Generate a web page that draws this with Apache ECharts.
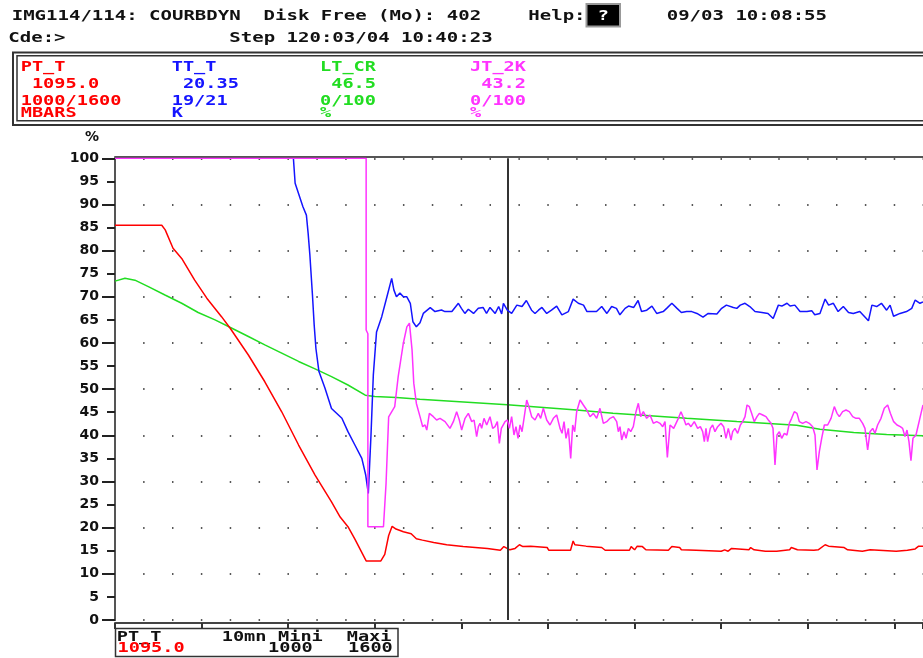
<!DOCTYPE html>
<html><head><meta charset="utf-8">
<script src="https://cdn.jsdelivr.net/npm/echarts@6/dist/echarts.min.js"></script>
<style>html,body{margin:0;padding:0;background:#fff}#c{width:923px;height:658px}</style>
</head><body><div id="c"></div>
<script>
// ---- data (x in minutes, y in %) ----
const ptT = [[0,85.5],[5.4,85.5],[5.8,84.5],[6.7,80.5],[7.7,78.3],[9.2,73.6],[10.6,69.7],[12.3,65.7],[13.3,63.2],[15.4,57.4],[17.3,51.6],[19.25,45.1],[21.2,37.9],[23.1,31.4],[25.0,25.6],[26.0,22.3],[26.9,20.2],[27.7,17.5],[29.0,12.8],[30.7,12.8],[31.15,14.2],[31.6,18.3],[32.0,20.3],[32.45,19.7],[33.3,19.1],[34.2,18.7],[34.8,17.6],[35.5,17.3],[36.8,16.8],[38.3,16.3],[40.2,15.9],[43.0,15.5],[43.2,15.1],[44.5,15.1],[44.9,15.9],[45.6,15.2],[46.2,15.5],[46.7,16.3],[47.1,15.9],[48.0,16.0],[49.9,15.7],[50.1,15.1],[52.6,15.1],[52.9,17.1],[53.1,16.3],[54.4,16.0],[56.2,15.7],[56.6,15.1],[59.4,15.1],[59.6,15.9],[60.0,15.2],[60.3,16.0],[60.9,15.9],[61.3,15.2],[63.9,15.1],[64.3,15.9],[65.2,15.7],[65.4,15.2],[67.1,15.1],[70.0,14.9],[70.4,15.2],[70.8,14.9],[71.2,15.5],[73.2,15.2],[73.4,15.7],[73.8,15.2],[75.1,14.9],[76.4,14.9],[76.6,15.2],[77.9,15.2],[78.1,15.7],[78.8,15.2],[80.7,15.1],[81.2,15.2],[82.0,16.3],[82.4,16.0],[84.2,15.7],[84.6,15.2],[86.3,14.9],[87.2,15.2],[90.2,14.9],[91.5,15.1],[92.4,15.4],[92.8,16.0],[93.3,16.0]];

const ttT = [[20.6,100],[20.8,94.6],[21.7,89.5],[22.1,87.7],[22.3,83.8],[22.5,79.1],[22.8,70.4],[23.0,63.9],[23.2,58.8],[23.55,53.8],[24.25,50.2],[25.0,45.8],[25.4,45.1],[26.2,43.7],[26.9,40.8],[27.7,37.9],[28.5,35.0],[28.95,31.4],[29.25,27.4],[29.56,40.1],[29.83,53.1],[30.0,57.4],[30.2,62.4],[30.8,65.7],[31.4,70.0],[31.95,74.0],[32.2,71.5],[32.5,70.0],[32.9,70.8],[33.3,70.0],[33.7,70.0],[34.1,68.6],[34.4,64.6],[34.8,63.5],[35.22,64.4],[35.6,66.4],[36.4,67.65],[36.95,66.8],[37.7,67.15],[38.1,66.8],[38.9,66.8],[39.65,68.6],[40.0,67.5],[40.4,66.4],[40.8,67.3],[41.4,66.4],[41.95,67.5],[42.5,67.7],[42.9,66.4],[43.3,67.7],[43.9,66.4],[44.3,67.9],[44.65,66.3],[44.85,68.6],[45.3,67.1],[45.8,66.4],[46.4,68.2],[47.0,67.9],[47.5,69.2],[48.1,67.1],[48.5,66.4],[48.9,67.1],[49.3,67.7],[49.85,66.4],[50.4,67.1],[51.0,68.0],[51.6,66.1],[52.35,66.8],[52.9,69.5],[53.5,68.6],[54.1,68.2],[54.5,66.8],[55.6,66.8],[56.2,67.9],[56.8,66.4],[57.35,67.9],[57.9,67.5],[58.3,66.1],[58.9,67.5],[59.3,68.0],[59.9,67.7],[60.4,69.2],[60.8,66.8],[61.4,67.1],[62.0,68.0],[62.55,66.4],[63.3,66.8],[63.7,67.5],[64.3,68.6],[64.9,67.5],[65.4,66.6],[66.0,66.8],[66.6,66.8],[67.2,66.4],[67.9,65.6],[68.5,66.4],[69.5,66.3],[70.05,67.5],[70.6,68.2],[71.4,67.7],[71.8,67.5],[72.2,68.2],[72.75,68.6],[73.3,67.9],[73.9,66.8],[74.7,66.6],[75.4,66.4],[76.0,65.3],[76.6,68.2],[77.0,68.0],[77.6,68.6],[77.95,68.0],[78.5,68.2],[79.1,66.8],[79.9,66.8],[80.45,67.0],[80.8,66.1],[81.4,66.4],[82.0,69.5],[82.4,68.2],[82.95,68.6],[83.5,66.8],[84.1,67.9],[84.7,66.6],[85.25,66.4],[86.0,66.8],[87.0,64.8],[87.4,68.2],[87.95,67.9],[88.5,68.6],[89.1,67.1],[89.5,68.2],[89.9,65.8],[90.65,66.4],[91.4,66.8],[92.0,67.5],[92.4,69.3],[92.95,68.6],[93.3,68.9]];

const ltCr = [[0,73.4],[1.15,74.0],[2.3,73.6],[3.85,72.2],[5.77,70.4],[7.7,68.6],[9.6,66.6],[11.55,65.0],[13.5,63.2],[15.4,61.4],[17.3,59.6],[19.25,57.8],[21.2,56.0],[23.1,54.4],[25.0,52.7],[26.9,50.9],[28.9,48.7],[30.0,48.4],[32.5,48.2],[35.2,47.8],[45.3,46.6],[53.3,45.5],[57.5,44.8],[62.2,44.2],[66.0,43.7],[71.8,43.0],[78.7,42.2],[81.4,41.3],[85.3,40.6],[89.1,40.2],[93.3,39.9]];

const jt2k = [[0,100],[29.0,100],[29.0,62.8],[29.2,62.0],[29.2,20.2],[31.0,20.2],[31.3,29.6],[31.6,44.0],[32.3,46.2],[32.7,52.7],[33.3,60.0],[33.7,63.5],[34.0,64.3],[34.3,58.5],[34.5,51.3],[34.8,46.9],
  [35.22,44.04],[35.53,41.87],[35.8,42.24],[36.0,41.15],[36.3,44.76],[36.76,44.04],[37.14,43.32],[37.53,43.68],[38.11,42.96],[38.68,41.51],[39.07,42.96],[39.45,45.12],[39.76,43.32],[40.03,41.15],[40.42,43.68],[40.8,44.76],[41.19,42.96],[41.46,43.32],[41.76,39.71],[41.96,41.87],[42.15,42.6],[42.34,41.51],[42.61,43.68],[42.92,42.24],[43.3,44.04],[43.61,41.51],[43.88,41.87],[44.15,42.96],[44.38,38.26],[44.61,41.51],[44.84,41.87],[45.04,42.96],[45.3,43.32],[45.54,41.51],[45.8,44.04],[46.07,40.07],[46.3,41.87],[46.54,39.35],[46.77,42.24],[47.0,40.79],[47.23,43.68],[47.54,47.65],[47.85,45.85],[48.11,44.04],[48.5,43.32],[48.88,44.76],[49.15,43.68],[49.46,45.85],[49.85,43.32],[50.23,42.24],[50.62,43.68],[51.0,44.4],[51.39,41.51],[51.62,40.43],[51.85,42.96],[52.08,39.35],[52.35,41.51],[52.62,35.0],[52.85,42.24],[53.08,40.79],[53.31,45.12],[53.7,47.65],[54.08,46.57],[54.47,45.49],[54.85,44.04],[55.24,44.76],[55.62,43.68],[56.0,45.85],[56.39,42.6],[56.78,42.96],[57.16,43.68],[57.55,44.04],[57.93,42.96],[58.12,40.79],[58.31,41.87],[58.51,38.99],[58.78,40.79],[59.01,39.35],[59.28,41.51],[59.55,40.79],[59.85,41.87],[60.16,45.12],[60.43,46.93],[60.7,44.04],[61.01,45.12],[61.39,43.68],[61.78,44.4],[62.16,42.6],[62.55,42.96],[62.93,42.6],[63.24,41.87],[63.51,42.96],[63.78,35.2],[64.09,42.24],
  [64.2,41.87],[64.51,41.51],[64.78,42.6],[65.05,43.68],[65.35,45.12],[65.66,43.68],[65.93,42.24],[66.2,42.6],[66.51,41.87],[66.89,42.96],[67.28,41.51],[67.59,41.87],[67.86,40.79],[68.05,38.63],[68.24,41.51],[68.43,38.63],[68.74,41.51],[69.01,42.24],[69.28,40.79],[69.59,41.87],[69.97,42.6],[70.28,41.87],[70.55,39.35],[70.82,41.51],[71.13,38.99],[71.32,40.79],[71.59,41.51],[71.9,40.43],[72.21,42.24],[72.48,42.96],[72.75,44.04],[72.98,46.57],[73.25,46.21],[73.51,44.76],[73.82,42.96],[74.13,44.04],[74.4,44.76],[74.79,44.4],[75.17,44.04],[75.44,43.32],[75.75,42.6],[75.98,41.51],[76.21,33.6],[76.44,40.07],[76.71,40.79],[76.98,39.35],[77.29,40.43],[77.59,40.07],[77.86,42.6],[78.13,43.68],[78.44,45.12],[78.75,44.76],[79.02,42.96],[79.4,42.6],[79.79,42.96],[80.17,42.6],[80.56,41.87],[80.83,40.07],[81.06,32.5],[81.33,36.46],[81.6,39.35],[81.91,42.24],[82.29,42.24],[82.68,43.68],[83.06,46.21],[83.37,44.76],[83.64,44.04],[84.02,45.12],[84.41,45.49],[84.79,45.12],[85.18,44.04],[85.56,43.68],[85.95,43.68],[86.33,42.6],[86.6,41.51],[86.91,36.82],[87.18,40.79],[87.49,41.51],[87.76,40.43],[88.06,42.24],[88.45,43.68],[88.83,45.85],[89.22,46.57],[89.53,44.76],[89.91,42.96],[90.3,42.24],[90.68,41.87],[90.95,41.51],[91.22,39.71],[91.45,41.15],[91.68,38.63],[91.91,34.5],[92.14,39.35],[92.49,40.07],[92.76,42.24],[93.07,44.76],[93.3,46.57]];

const cursorAt = 45.3;
const xMax = 93.3;

const legendNames  = ['PT_T', 'TT_T', 'LT_CR', 'JT_2K'];
const legendValues = ['1095.0', '20.35', '46.5', '43.2'];
const legendRanges = ['1000/1600', '19/21', '0/100', '0/100'];
const legendUnits  = ['MBARS', 'K', '%', '%'];

const headerLine1 = 'IMG114/114: COURBDYN  Disk Free (Mo): 402';
const helpLabel = 'Help:';
const helpKey = '?';
const clockText = '09/03 10:08:55';
const cmdText = 'Cde:>';
const stepText = 'Step 120:03/04 10:40:23';

const footName = 'PT_T';
const footValue = '1095.0';
const footScale = '10mn';
const footMiniLabel = 'Mini';
const footMaxiLabel = 'Maxi';
const footMini = '1000';
const footMaxi = '1600';

// ---- styling ----
const COLORS = ['#ff0000', '#1414ff', '#22dd22', '#ff33ff'];
const MONO = '"DejaVu Sans Mono","Liberation Mono",monospace';
function txt(str, x, y, color, sx, align) {
  return {type: 'text', x: x, y: y, scaleX: sx, silent: true, z: 100,
    style: {text: str, fill: color, font: 'bold 14px ' + MONO,
      textAlign: align || 'left', align: align || 'left',
      textVerticalAlign: 'middle', verticalAlign: 'middle'}};
}
const HS = 11.45 / 8.43;
const LS = 11.2 / 8.43;

const graphics = [];
graphics.push(txt(headerLine1, 11.7, 16, '#111', HS));
graphics.push(txt(helpLabel, 528.3, 16, '#111', HS));
graphics.push({type: 'rect', shape: {x: 586.5, y: 4, width: 33.5, height: 22.5}, style: {fill: '#000', stroke: '#999', lineWidth: 2}, z: 99, silent: true});
graphics.push(txt(helpKey, 603.2, 16, '#fff', HS, 'center'));
graphics.push(txt(clockText, 666.7, 16, '#111', HS));
graphics.push(txt(cmdText, 8.3, 38, '#111', HS));
graphics.push(txt(stepText, 229.3, 38, '#111', HS));

graphics.push({type: 'rect', shape: {x: 13, y: 52.5, width: 940, height: 72.5}, style: {fill: 'none', stroke: '#333', lineWidth: 2}, z: 99, silent: true});
graphics.push({type: 'rect', shape: {x: 17, y: 55.8, width: 930, height: 65}, style: {fill: 'none', stroke: '#333', lineWidth: 1.5}, z: 99, silent: true});
const legendX = [20.7, 171.7, 320, 470];
legendNames.forEach(function (n, i) {
  graphics.push(txt(n, legendX[i], 67.5, COLORS[i], LS));
  graphics.push(txt(' ' + legendValues[i], legendX[i], 84.5, COLORS[i], LS));
  graphics.push(txt(legendRanges[i], legendX[i], 101.8, COLORS[i], LS));
  graphics.push(txt(legendUnits[i], legendX[i], 113, COLORS[i], LS));
});

graphics.push({type: 'rect', shape: {x: 115.5, y: 628.5, width: 282.5, height: 28}, style: {fill: '#fff', stroke: '#333', lineWidth: 1.5}, z: 99, silent: true});
graphics.push(txt(footName, 116.7, 637, '#111', LS));
graphics.push(txt(footValue, 117.5, 648.5, COLORS[0], LS));
graphics.push(txt(footScale, 221.7, 637, '#111', LS));
graphics.push(txt(footMiniLabel, 278, 637, '#111', LS));
graphics.push(txt(footMaxiLabel, 346.7, 637, '#111', LS));
graphics.push(txt(footMini, 268, 648.5, '#111', LS));
graphics.push(txt(footMaxi, 348, 648.5, '#111', LS));

const chart = echarts.init(document.getElementById('c'), null, {renderer: 'canvas'});
function lineSeries(name, data, color, z) {
  return {name: name, type: 'line', data: data, showSymbol: false, symbol: 'none',
    lineStyle: {color: color, width: 1.5}, itemStyle: {color: color}, z: z,
    animation: false, silent: true};
}
const series = [
  lineSeries(legendNames[2], ltCr, COLORS[2], 3),
  lineSeries(legendNames[0], ptT, COLORS[0], 4),
  lineSeries(legendNames[1], ttT, COLORS[1], 5),
  lineSeries(legendNames[3], jt2k, COLORS[3], 6)
];
series[0].markLine = {silent: true, symbol: ['none', 'none'], animation: false,
  label: {show: false}, lineStyle: {color: '#333', width: 2, type: 'solid'},
  data: [{xAxis: cursorAt}]};

chart.setOption({
  animation: false,
  backgroundColor: '#fff',
  grid: {left: 115, right: 0, top: 158.3, bottom: 38},
  xAxis: [
    {type: 'value', min: 0, max: xMax, interval: 10, position: 'bottom', offset: 3,
      axisLine: {show: true, onZero: false, lineStyle: {color: '#444', width: 2}},
      axisTick: {show: true, length: 6, lineStyle: {color: '#333', width: 2}},
      axisLabel: {show: false}, splitLine: {show: false}},
    {type: 'value', min: 0, max: xMax, interval: 10, position: 'top', offset: 2,
      axisLine: {show: true, onZero: false, lineStyle: {color: '#555', width: 2}},
      axisTick: {show: false}, axisLabel: {show: false}, splitLine: {show: false}}
  ],
  yAxis: [
    {type: 'value', min: 0, max: 100, interval: 5, position: 'left',
      name: '%', nameLocation: 'end', nameGap: 21,
      nameTextStyle: {fontFamily: 'DejaVu Sans', fontWeight: 'bold', fontSize: 14, color: '#111', align: 'right', verticalAlign: 'middle', padding: [0, 16, 0, 0]},
      axisLine: {show: true, onZero: false, lineStyle: {color: '#555', width: 2}},
      axisTick: {show: true, length: 8, lineStyle: {color: '#222', width: 2}},
      axisLabel: {margin: 16, fontFamily: 'DejaVu Sans', fontWeight: 'bold', fontSize: 14, color: '#111'},
      splitLine: {show: false}},
    {type: 'value', min: 0, max: 100, interval: 10, position: 'left',
      axisLine: {show: false},
      axisTick: {show: true, length: 13, lineStyle: {color: '#222', width: 2}},
      axisLabel: {show: false},
      splitLine: {show: true, lineStyle: {color: '#222', width: 1.5, type: [1.5, 27.37], dashOffset: 0.77}}}
  ],
  graphic: graphics,
  series: series
});
</script></body></html>
